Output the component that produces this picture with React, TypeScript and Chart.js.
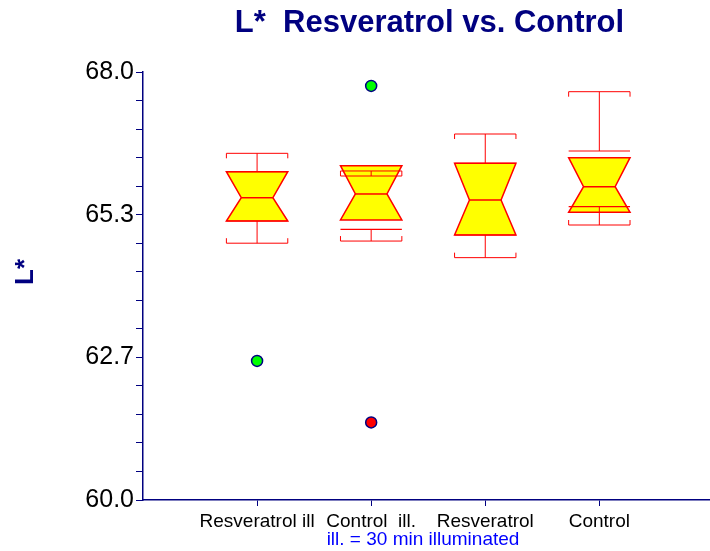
import React, { useEffect, useRef } from 'react';
import { Chart, registerables } from 'chart.js';

Chart.register(...registerables);

// ---- data ----
const categories = ['Resveratrol ill', 'Control  ill.', 'Resveratrol', 'Control'];
const lowerWhisker = [64.8, 64.84, 64.53, 65.14];
const q1Values = [65.215, 65.06, 64.953, 65.482];
const medianValues = [65.65, 65.72, 65.607, 65.856];
const q3Values = [66.137, 66.056, 66.293, 66.523];
const upperWhisker = [66.48, 66.15, 66.841, 67.632];
const notchLow = [65.215, 65.234, 64.953, 65.378];
const notchHigh = [66.137, 66.249, 66.293, 66.398];
const outlierCategory = [1, 2, 2];
const outlierValues = [62.6, 67.74, 61.45];
const outlierColors = ['#00ff00', '#00ff00', '#ff0000'];
const yMajorTicks = [60, 62.6667, 65.3333, 68];
const yTickLabels = ['60.0', '62.7', '65.3', '68.0'];
const minorPerMajor = 5;

const FONT = "'Liberation Sans', Arial, Helvetica, sans-serif";
const NAVY = '#000080';
const BOX_HALF = 0.269;
const NOTCH_HALF = 0.1385;
const CAP_TICK = 5;

const boxPlugin = {
  id: 'notchBoxes',
  beforeDatasetsDraw(chart: any) {
    const { ctx } = chart;
    const x = chart.scales.x;
    const y = chart.scales.y;
    ctx.save();
    categories.forEach((_, i) => {
      const cx = x.getPixelForValue(i + 1);
      const hw = x.getPixelForValue(i + 1 + BOX_HALF) - cx;
      const nw = x.getPixelForValue(i + 1 + NOTCH_HALF) - cx;
      const yNH = y.getPixelForValue(notchHigh[i]);
      const yNL = y.getPixelForValue(notchLow[i]);
      const yMed = y.getPixelForValue(medianValues[i]);
      const yQ1 = y.getPixelForValue(q1Values[i]);
      const yQ3 = y.getPixelForValue(q3Values[i]);
      const yLo = y.getPixelForValue(lowerWhisker[i]);
      const yHi = y.getPixelForValue(upperWhisker[i]);

      // notched polygon
      ctx.beginPath();
      ctx.moveTo(cx - hw, yNH);
      ctx.lineTo(cx + hw, yNH);
      ctx.lineTo(cx + nw, yMed);
      ctx.lineTo(cx + hw, yNL);
      ctx.lineTo(cx - hw, yNL);
      ctx.lineTo(cx - nw, yMed);
      ctx.closePath();
      ctx.fillStyle = '#ffff00';
      ctx.fill();
      ctx.strokeStyle = '#ff0000';
      ctx.lineWidth = 1.5;
      ctx.stroke();

      // median
      ctx.beginPath();
      ctx.moveTo(cx - nw, yMed);
      ctx.lineTo(cx + nw, yMed);
      ctx.stroke();

      // quartile lines
      ctx.lineWidth = 1.2;
      ctx.beginPath();
      ctx.moveTo(cx - hw, yQ3);
      ctx.lineTo(cx + hw, yQ3);
      ctx.moveTo(cx - hw, yQ1);
      ctx.lineTo(cx + hw, yQ1);
      ctx.stroke();

      // whiskers + caps
      ctx.lineWidth = 1;
      ctx.beginPath();
      ctx.moveTo(cx, yQ3);
      ctx.lineTo(cx, yHi);
      ctx.moveTo(cx, yQ1);
      ctx.lineTo(cx, yLo);
      // top cap (ticks toward box: down)
      ctx.moveTo(cx - hw, yHi + CAP_TICK);
      ctx.lineTo(cx - hw, yHi);
      ctx.lineTo(cx + hw, yHi);
      ctx.lineTo(cx + hw, yHi + CAP_TICK);
      // bottom cap (ticks toward box: up)
      ctx.moveTo(cx - hw, yLo - CAP_TICK);
      ctx.lineTo(cx - hw, yLo);
      ctx.lineTo(cx + hw, yLo);
      ctx.lineTo(cx + hw, yLo - CAP_TICK);
      ctx.stroke();
    });
    ctx.restore();
  },
};

const textPlugin = {
  id: 'texts',
  afterDraw(chart: any) {
    const { ctx } = chart;
    ctx.save();
    // title
    ctx.fillStyle = NAVY;
    ctx.font = `bold 31px ${FONT}`;
    ctx.textAlign = 'center';
    ctx.textBaseline = 'middle';
    ctx.fillText('L*  Resveratrol vs. Control', 429.5, 23);
    // y title
    ctx.save();
    ctx.translate(33, 272);
    ctx.rotate(-Math.PI / 2);
    ctx.font = `bold 26px ${FONT}`;
    ctx.textBaseline = 'alphabetic';
    ctx.fillText('L*', 0, 0);
    ctx.restore();
    // note
    ctx.fillStyle = '#0000ff';
    ctx.font = `19px ${FONT}`;
    ctx.textAlign = 'center';
    ctx.textBaseline = 'middle';
    ctx.fillText('ill. = 30 min illuminated', 423, 540);
    ctx.restore();
  },
};

export default function App() {
  const canvasRef = useRef<HTMLCanvasElement | null>(null);

  useEffect(() => {
    const canvas = canvasRef.current;
    if (!canvas) return;

    const allYTicks: number[] = [];
    for (let m = 0; m < yMajorTicks.length; m++) {
      allYTicks.push(yMajorTicks[m]);
      if (m < yMajorTicks.length - 1) {
        const step = (yMajorTicks[m + 1] - yMajorTicks[m]) / minorPerMajor;
        for (let k = 1; k < minorPerMajor; k++) allYTicks.push(yMajorTicks[m] + step * k);
      }
    }

    const chart = new Chart(canvas, {
      type: 'scatter',
      data: {
        datasets: [
          {
            label: 'Outliers',
            data: outlierValues.map((v, i) => ({ x: outlierCategory[i], y: v })),
            pointBackgroundColor: outlierColors,
            pointBorderColor: NAVY,
            pointBorderWidth: 1.5,
            pointRadius: 5.5,
            pointHoverRadius: 5.5,
          },
        ],
      },
      options: {
        responsive: false,
        animation: false,
        layout: { autoPadding: false, padding: { top: 72, left: 0, right: 0, bottom: 0 } },
        plugins: {
          legend: { display: false },
          tooltip: { enabled: false },
          title: { display: false },
        },
        events: [],
        scales: {
          x: {
            type: 'linear',
            min: 0,
            max: 4.97,
            afterBuildTicks: (scale: any) => {
              scale.ticks = categories.map((_, i) => ({ value: i + 1 }));
            },
            afterFit: (scale: any) => {
              scale.height = 51;
              scale.paddingLeft = 0;
              scale.paddingRight = 0;
            },
            ticks: {
              autoSkip: false,
              maxRotation: 0,
              padding: 4,
              color: '#000000',
              font: { family: FONT, size: 19 },
              callback: (v: any) => categories[Math.round(Number(v)) - 1] ?? '',
            },
            grid: {
              drawOnChartArea: false,
              drawTicks: true,
              tickLength: 6,
              color: NAVY,
            },
            border: { color: NAVY, width: 1.5 },
          },
          y: {
            type: 'linear',
            min: 60,
            max: 68,
            afterBuildTicks: (scale: any) => {
              scale.ticks = allYTicks.map((v) => ({ value: v }));
            },
            afterFit: (scale: any) => {
              scale.width = 143;
            },
            ticks: {
              autoSkip: false,
              padding: 2,
              color: '#000000',
              font: { family: FONT, size: 25 },
              callback: (_v: any, idx: number) =>
                idx % minorPerMajor === 0 ? yTickLabels[idx / minorPerMajor] : '',
            },
            grid: {
              drawOnChartArea: false,
              drawTicks: true,
              tickLength: 7,
              color: NAVY,
            },
            border: { color: NAVY, width: 1.5 },
          },
        },
      },
      plugins: [boxPlugin, textPlugin],
    });

    return () => chart.destroy();
  }, []);

  return (
    <div style={{ position: 'absolute', left: 0, top: 0, width: 710, height: 551, background: '#ffffff' }}>
      <canvas ref={canvasRef} width={710} height={551} style={{ display: 'block' }} />
    </div>
  );
}
